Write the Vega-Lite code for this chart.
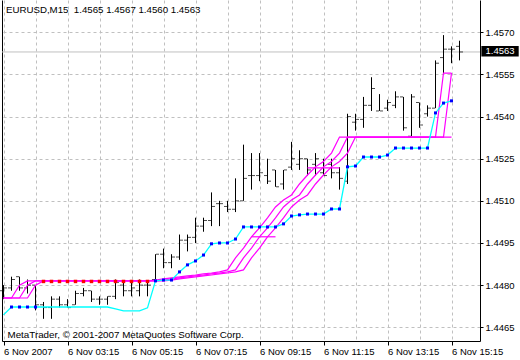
{
"$schema": "https://vega.github.io/schema/vega-lite/v6.json",
"width": 478, "height": 341,
"autosize": {"type": "none"},
"padding": {"left": 2, "top": 0, "right": 40, "bottom": 19},
"background": "white",
"config": {"view": {"stroke": null}, "font": "Liberation Sans"},
"title": {"text": "EURUSD,M15\u00a0 1.4565 1.4567 1.4560 1.4563", "anchor": "start", "frame": "group", "orient": "top", "offset": -15, "dx": 4, "fontSize": 9.7, "fontWeight": "normal", "font": "Liberation Sans", "color": "black"},
"datasets": {
"bars": [
{"t":"2007-11-06T01:15:00Z","o":1.4478,"h":1.4480,"l":1.4475,"c":1.4479,"cy":1.44694,"a":1.44754,"b":1.44754,"m":1.44754},
{"t":"2007-11-06T01:30:00Z","o":1.4479,"h":1.4483,"l":1.4478,"c":1.4482,"cy":1.44722,"bl":1.44722,"a":1.44754,"b":1.44754,"m":1.44754},
{"t":"2007-11-06T01:45:00Z","o":1.4483,"h":1.4483,"l":1.4478,"c":1.4479,"cy":1.44722,"bl":1.44722,"a":1.448,"b":1.44754,"m":1.44754},
{"t":"2007-11-06T02:00:00Z","o":1.4479,"h":1.4482,"l":1.4477,"c":1.4480,"cy":1.44722,"bl":1.44722,"a":1.44815,"b":1.448,"m":1.44754},
{"t":"2007-11-06T02:15:00Z","o":1.4480,"h":1.4480,"l":1.4471,"c":1.4473,"cy":1.44722,"bl":1.44722,"a":1.44815,"b":1.44815,"m":1.448},
{"t":"2007-11-06T02:30:00Z","o":1.4473,"h":1.4474,"l":1.4468,"c":1.4472,"cy":1.44722,"rd":1.44813,"a":1.44815,"b":1.44815,"m":1.44815},
{"t":"2007-11-06T02:45:00Z","o":1.4472,"h":1.4476,"l":1.4468,"c":1.4475,"cy":1.44722,"rd":1.44813,"a":1.44815,"b":1.44815,"m":1.44815},
{"t":"2007-11-06T03:00:00Z","o":1.4475,"h":1.4476,"l":1.4472,"c":1.4473,"cy":1.44722,"rd":1.44813,"a":1.44815,"b":1.44815,"m":1.44815},
{"t":"2007-11-06T03:15:00Z","o":1.4473,"h":1.4475,"l":1.4472,"c":1.4472,"cy":1.44722,"rd":1.44813,"a":1.44815,"b":1.44815,"m":1.44815},
{"t":"2007-11-06T03:30:00Z","o":1.4473,"h":1.4478,"l":1.4473,"c":1.4477,"cy":1.44722,"rd":1.44813,"a":1.44815,"b":1.44815,"m":1.44815},
{"t":"2007-11-06T03:45:00Z","o":1.4477,"h":1.4479,"l":1.4476,"c":1.4478,"cy":1.44722,"rd":1.44813,"a":1.44815,"b":1.44815,"m":1.44815},
{"t":"2007-11-06T04:00:00Z","o":1.4478,"h":1.4478,"l":1.4474,"c":1.4475,"cy":1.44722,"rd":1.44813,"a":1.44815,"b":1.44815,"m":1.44815},
{"t":"2007-11-06T04:15:00Z","o":1.4475,"h":1.4476,"l":1.4473,"c":1.4475,"cy":1.44722,"rd":1.44813,"a":1.44815,"b":1.44815,"m":1.44815},
{"t":"2007-11-06T04:30:00Z","o":1.4475,"h":1.4476,"l":1.4473,"c":1.4476,"cy":1.44722,"rd":1.44813,"a":1.44815,"b":1.44815,"m":1.44815},
{"t":"2007-11-06T04:45:00Z","o":1.4476,"h":1.4482,"l":1.4475,"c":1.4481,"cy":1.44715,"rd":1.44813,"a":1.44815,"b":1.44815,"m":1.44815},
{"t":"2007-11-06T05:00:00Z","o":1.4480,"h":1.4481,"l":1.4476,"c":1.4478,"cy":1.44708,"rd":1.44813,"a":1.44815,"b":1.44815,"m":1.44815},
{"t":"2007-11-06T05:15:00Z","o":1.4478,"h":1.4481,"l":1.4476,"c":1.4479,"cy":1.44708,"rd":1.44813,"a":1.44815,"b":1.44815,"m":1.44815},
{"t":"2007-11-06T05:30:00Z","o":1.4478,"h":1.4482,"l":1.4476,"c":1.4480,"cy":1.44708,"rd":1.44813,"a":1.44815,"b":1.44815,"m":1.44815},
{"t":"2007-11-06T05:45:00Z","o":1.4480,"h":1.4481,"l":1.4476,"c":1.4480,"cy":1.44719,"rd":1.44813,"a":1.44815,"b":1.44815,"m":1.44815},
{"t":"2007-11-06T06:00:00Z","o":1.4482,"h":1.4491,"l":1.4482,"c":1.4491,"cy":1.44815,"bl":1.44815,"a":1.44818,"b":1.44815,"m":1.44815},
{"t":"2007-11-06T06:15:00Z","o":1.4491,"h":1.4493,"l":1.4486,"c":1.4488,"cy":1.44818,"bl":1.44818,"a":1.44822,"b":1.44818,"m":1.44815},
{"t":"2007-11-06T06:30:00Z","o":1.4488,"h":1.4491,"l":1.4486,"c":1.4490,"cy":1.44818,"bl":1.44818,"a":1.44826,"b":1.44822,"m":1.44818},
{"t":"2007-11-06T06:45:00Z","o":1.4490,"h":1.4498,"l":1.4489,"c":1.4496,"cy":1.44847,"bl":1.44847,"a":1.44829,"b":1.44826,"m":1.44822},
{"t":"2007-11-06T07:00:00Z","o":1.4496,"h":1.4498,"l":1.4492,"c":1.4497,"cy":1.44872,"bl":1.44872,"a":1.44833,"b":1.44829,"m":1.44826},
{"t":"2007-11-06T07:15:00Z","o":1.4497,"h":1.4504,"l":1.4495,"c":1.4501,"cy":1.44886,"bl":1.44886,"a":1.44836,"b":1.44833,"m":1.44829},
{"t":"2007-11-06T07:30:00Z","o":1.4501,"h":1.4504,"l":1.4499,"c":1.4503,"cy":1.44907,"bl":1.44907,"a":1.4484,"b":1.44836,"m":1.44833},
{"t":"2007-11-06T07:45:00Z","o":1.4503,"h":1.4513,"l":1.4501,"c":1.4508,"cy":1.44947,"bl":1.44947,"a":1.44843,"b":1.4484,"m":1.44836},
{"t":"2007-11-06T08:00:00Z","o":1.4509,"h":1.4510,"l":1.4501,"c":1.4509,"cy":1.4495,"bl":1.4495,"a":1.44847,"b":1.44843,"m":1.4484},
{"t":"2007-11-06T08:15:00Z","o":1.4508,"h":1.4510,"l":1.4506,"c":1.4507,"cy":1.4495,"bl":1.4495,"a":1.44854,"b":1.44847,"m":1.44843},
{"t":"2007-11-06T08:30:00Z","o":1.4507,"h":1.4518,"l":1.4506,"c":1.4510,"cy":1.44964,"bl":1.44964,"a":1.44897,"b":1.44854,"m":1.44847},
{"t":"2007-11-06T08:45:00Z","o":1.4510,"h":1.4530,"l":1.4510,"c":1.4518,"cy":1.45007,"bl":1.45007,"a":1.44932,"b":1.44897,"m":1.44854},
{"t":"2007-11-06T09:00:00Z","o":1.4519,"h":1.4527,"l":1.4514,"c":1.4519,"cy":1.45007,"bl":1.45007,"a":1.44972,"b":1.44932,"m":1.44897},
{"t":"2007-11-06T09:15:00Z","o":1.4519,"h":1.4527,"l":1.4517,"c":1.4520,"cy":1.45007,"bl":1.45007,"a":1.45004,"b":1.44972,"m":1.44932},
{"t":"2007-11-06T09:30:00Z","o":1.4519,"h":1.4525,"l":1.4516,"c":1.4517,"cy":1.45007,"bl":1.45007,"a":1.45039,"b":1.45004,"m":1.44972},
{"t":"2007-11-06T09:45:00Z","o":1.4521,"h":1.4521,"l":1.4515,"c":1.4515,"cy":1.45007,"bl":1.45007,"a":1.45078,"b":1.45039,"m":1.45004},
{"t":"2007-11-06T10:00:00Z","o":1.4516,"h":1.4521,"l":1.4514,"c":1.4521,"cy":1.45018,"bl":1.45018,"a":1.45103,"b":1.45078,"m":1.45039},
{"t":"2007-11-06T10:15:00Z","o":1.4522,"h":1.4531,"l":1.4521,"c":1.4525,"cy":1.45046,"bl":1.45046,"a":1.45121,"b":1.45103,"m":1.45078},
{"t":"2007-11-06T10:30:00Z","o":1.4523,"h":1.4528,"l":1.4521,"c":1.4525,"cy":1.4505,"bl":1.4505,"a":1.4516,"b":1.45121,"m":1.45103},
{"t":"2007-11-06T10:45:00Z","o":1.4525,"h":1.4525,"l":1.4519,"c":1.4521,"cy":1.45053,"bl":1.45053,"a":1.45192,"b":1.4516,"m":1.45121},
{"t":"2007-11-06T11:00:00Z","o":1.4523,"h":1.4527,"l":1.4519,"c":1.4525,"cy":1.45053,"bl":1.45053,"a":1.45221,"b":1.45192,"m":1.4516},
{"t":"2007-11-06T11:15:00Z","o":1.4520,"h":1.4525,"l":1.4519,"c":1.4519,"cy":1.45053,"bl":1.45053,"a":1.4524,"b":1.45221,"m":1.45192},
{"t":"2007-11-06T11:30:00Z","o":1.4523,"h":1.4525,"l":1.4518,"c":1.4520,"cy":1.45071,"bl":1.45071,"a":1.4527,"b":1.4524,"m":1.45221},
{"t":"2007-11-06T11:45:00Z","o":1.4520,"h":1.4522,"l":1.4514,"c":1.4518,"cy":1.45071,"bl":1.45071,"a":1.45327,"b":1.4527,"m":1.4524},
{"t":"2007-11-06T12:00:00Z","o":1.4517,"h":1.4541,"l":1.4516,"c":1.4540,"cy":1.45221,"bl":1.45221,"a":1.45327,"b":1.45327,"m":1.4527},
{"t":"2007-11-06T12:15:00Z","o":1.4538,"h":1.4541,"l":1.4535,"c":1.4539,"cy":1.45224,"bl":1.45224,"a":1.45327,"b":1.45327,"m":1.45327},
{"t":"2007-11-06T12:30:00Z","o":1.4539,"h":1.4547,"l":1.4536,"c":1.4544,"cy":1.45256,"bl":1.45256,"a":1.45327,"b":1.45327,"m":1.45327},
{"t":"2007-11-06T12:45:00Z","o":1.4544,"h":1.4554,"l":1.4542,"c":1.4550,"cy":1.45256,"bl":1.45256,"a":1.45327,"b":1.45327,"m":1.45327},
{"t":"2007-11-06T13:00:00Z","o":1.4542,"h":1.4548,"l":1.4542,"c":1.4542,"cy":1.45256,"bl":1.45256,"a":1.45327,"b":1.45327,"m":1.45327},
{"t":"2007-11-06T13:15:00Z","o":1.4543,"h":1.4546,"l":1.4542,"c":1.4545,"cy":1.45263,"bl":1.45263,"a":1.45327,"b":1.45327,"m":1.45327},
{"t":"2007-11-06T13:30:00Z","o":1.4544,"h":1.4549,"l":1.4543,"c":1.4547,"cy":1.45288,"bl":1.45288,"a":1.45327,"b":1.45327,"m":1.45327},
{"t":"2007-11-06T13:45:00Z","o":1.4547,"h":1.4547,"l":1.4535,"c":1.4536,"cy":1.45288,"bl":1.45288,"a":1.45327,"b":1.45327,"m":1.45327},
{"t":"2007-11-06T14:00:00Z","o":1.4533,"h":1.4548,"l":1.4533,"c":1.4547,"cy":1.45288,"bl":1.45288,"a":1.45327,"b":1.45327,"m":1.45327},
{"t":"2007-11-06T14:15:00Z","o":1.4545,"h":1.4545,"l":1.4536,"c":1.4537,"cy":1.45288,"bl":1.45288,"a":1.45327,"b":1.45327,"m":1.45327},
{"t":"2007-11-06T14:30:00Z","o":1.4541,"h":1.4544,"l":1.4540,"c":1.4543,"cy":1.45288,"bl":1.45288,"a":1.45327,"b":1.45327,"m":1.45327},
{"t":"2007-11-06T14:45:00Z","o":1.4543,"h":1.4560,"l":1.4543,"c":1.4559,"cy":1.45413,"bl":1.45413,"a":1.45327,"b":1.45327,"m":1.45327},
{"t":"2007-11-06T15:00:00Z","o":1.4561,"h":1.4569,"l":1.4555,"c":1.4564,"cy":1.45448,"bl":1.45448,"a":1.45555,"b":1.45327,"m":1.45327},
{"t":"2007-11-06T15:15:00Z","o":1.4564,"h":1.4565,"l":1.4559,"c":1.4564,"cy":1.45456,"bl":1.45456,"a":1.45555,"b":1.45555,"m":1.45327},
{"t":"2007-11-06T15:30:00Z","o":1.4565,"h":1.4567,"l":1.4560,"c":1.4563}
],
"segs": [
{"t":"2007-11-06T09:00:00Z","t2":"2007-11-06T09:45:00Z","v":1.44972},
{"t":"2007-11-06T10:45:00Z","t2":"2007-11-06T11:45:00Z","v":1.45217}
],
"last": [{"v": 1.4563, "lab": "1.4563"}]
},
"layer": [
{"data": {"name": "last"},
 "mark": {"type": "rule", "color": "#c0c0c0", "strokeWidth": 1},
 "encoding": {"y": {"field": "v", "type": "quantitative", "scale": {"domain": [1.44601, 1.45815], "zero": false},
   "axis": {"orient": "left", "labels": false, "ticks": false, "grid": false, "domain": true, "domainColor": "black", "domainWidth": 1, "title": null}}}},
{"data": {"name": "bars"},
 "mark": {"type": "rule", "color": "black", "strokeWidth": 1},
 "encoding": {
  "x": {"field": "t", "type": "temporal", "scale": {"type": "utc", "domain": [{"year":2007,"month":11,"date":6,"hours":1,"minutes":12,"seconds":11,"milliseconds":250,"utc":true},{"year":2007,"month":11,"date":6,"hours":16,"minutes":8,"seconds":26,"milliseconds":250,"utc":true}]},
   "axis": {"orient": "bottom", "values": [
     {"year":2007,"month":11,"date":6,"hours":1,"minutes":15,"utc":true},{"year":2007,"month":11,"date":6,"hours":2,"minutes":15,"utc":true},{"year":2007,"month":11,"date":6,"hours":3,"minutes":15,"utc":true},{"year":2007,"month":11,"date":6,"hours":4,"minutes":15,"utc":true},{"year":2007,"month":11,"date":6,"hours":5,"minutes":15,"utc":true},{"year":2007,"month":11,"date":6,"hours":6,"minutes":15,"utc":true},{"year":2007,"month":11,"date":6,"hours":7,"minutes":15,"utc":true},{"year":2007,"month":11,"date":6,"hours":8,"minutes":15,"utc":true},{"year":2007,"month":11,"date":6,"hours":9,"minutes":15,"utc":true},{"year":2007,"month":11,"date":6,"hours":10,"minutes":15,"utc":true},{"year":2007,"month":11,"date":6,"hours":11,"minutes":15,"utc":true},{"year":2007,"month":11,"date":6,"hours":12,"minutes":15,"utc":true},{"year":2007,"month":11,"date":6,"hours":13,"minutes":15,"utc":true},{"year":2007,"month":11,"date":6,"hours":14,"minutes":15,"utc":true},{"year":2007,"month":11,"date":6,"hours":15,"minutes":15,"utc":true}],
    "labelExpr": "utchours(datum.value) % 2 == 1 ? (utchours(datum.value) == 1 ? '6 Nov 2007' : utcFormat(datum.value, '%-d %b %H:%M')) : ''",
    "labelAlign": "left", "labelBaseline": "top", "labelPadding": 1, "labelOverlap": false, "labelFlush": false, "labelBound": false,
    "labelFont": "Liberation Sans", "labelFontSize": 9.5, "labelColor": "black",
    "tickSize": 4, "tickColor": "black", "tickOpacity": {"condition": {"test": "utchours(datum.value) % 2 == 1", "value": 1}, "value": 0},
    "grid": true, "gridColor": "#c0c0c0", "gridDash": [3, 3], "gridWidth": 1,
    "domain": true, "domainColor": "black",
    "title": "MetaTrader, © 2001-2007 MetaQuotes Software Corp.", "titleX": 5, "titleY": -4, "titleAlign": "left", "titleBaseline": "alphabetic", "titleFontWeight": "normal", "titleFontSize": 9.8, "titleFont": "Liberation Sans", "titleColor": "black"}},
  "y": {"field": "l", "type": "quantitative", "scale": {"domain": [1.44601, 1.45815], "zero": false},
   "axis": {"orient": "right", "values": [1.4465, 1.448, 1.4495, 1.451, 1.4525, 1.454, 1.4555, 1.457], "format": ".4f", "tickSize": 3, "tickColor": "black", "labelPadding": 2, "labelAlign": "left", "labelBaseline": "middle", "labelFont": "Liberation Sans", "labelFontSize": 9.5, "labelColor": "black", "labelFlush": false, "labelOverlap": false, "grid": true, "gridColor": "#c0c0c0", "gridDash": [3, 3], "domainColor": "black", "title": null}},
  "y2": {"field": "h"}}},
{"data": {"name": "bars"},
 "mark": {"type": "tick", "orient": "horizontal", "size": 3, "thickness": 1, "xOffset": -2, "color": "black"},
 "encoding": {
  "x": {"field": "t", "type": "temporal", "scale": {"type": "utc", "domain": [{"year":2007,"month":11,"date":6,"hours":1,"minutes":12,"seconds":11,"milliseconds":250,"utc":true},{"year":2007,"month":11,"date":6,"hours":16,"minutes":8,"seconds":26,"milliseconds":250,"utc":true}]}, "axis": null},
  "y": {"field": "o", "type": "quantitative", "scale": {"domain": [1.44601, 1.45815], "zero": false}, "axis": null}}},
{"data": {"name": "bars"},
 "mark": {"type": "tick", "orient": "horizontal", "size": 3, "thickness": 1, "xOffset": 2, "color": "black"},
 "encoding": {
  "x": {"field": "t", "type": "temporal", "scale": {"type": "utc", "domain": [{"year":2007,"month":11,"date":6,"hours":1,"minutes":12,"seconds":11,"milliseconds":250,"utc":true},{"year":2007,"month":11,"date":6,"hours":16,"minutes":8,"seconds":26,"milliseconds":250,"utc":true}]}, "axis": null},
  "y": {"field": "c", "type": "quantitative", "scale": {"domain": [1.44601, 1.45815], "zero": false}, "axis": null}}},
{"data": {"name": "segs"},
 "mark": {"type": "rule", "color": "#ff00ff", "strokeWidth": 1.2},
 "encoding": {
  "x": {"field": "t", "type": "temporal", "scale": {"type": "utc", "domain": [{"year":2007,"month":11,"date":6,"hours":1,"minutes":12,"seconds":11,"milliseconds":250,"utc":true},{"year":2007,"month":11,"date":6,"hours":16,"minutes":8,"seconds":26,"milliseconds":250,"utc":true}]}, "axis": null},
  "x2": {"field": "t2"},
  "y": {"field": "v", "type": "quantitative", "scale": {"domain": [1.44601, 1.45815], "zero": false}, "axis": null}}},
{"data": {"name": "bars"},
 "mark": {"type": "line", "color": "#ff00ff", "strokeWidth": 1.2},
 "encoding": {
  "x": {"field": "t", "type": "temporal", "scale": {"type": "utc", "domain": [{"year":2007,"month":11,"date":6,"hours":1,"minutes":12,"seconds":11,"milliseconds":250,"utc":true},{"year":2007,"month":11,"date":6,"hours":16,"minutes":8,"seconds":26,"milliseconds":250,"utc":true}]}, "axis": null},
  "y": {"field": "a", "type": "quantitative", "scale": {"domain": [1.44601, 1.45815], "zero": false}, "axis": null}}},
{"data": {"name": "bars"},
 "mark": {"type": "line", "color": "#ff00ff", "strokeWidth": 1.2},
 "encoding": {
  "x": {"field": "t", "type": "temporal", "scale": {"type": "utc", "domain": [{"year":2007,"month":11,"date":6,"hours":1,"minutes":12,"seconds":11,"milliseconds":250,"utc":true},{"year":2007,"month":11,"date":6,"hours":16,"minutes":8,"seconds":26,"milliseconds":250,"utc":true}]}, "axis": null},
  "y": {"field": "b", "type": "quantitative", "scale": {"domain": [1.44601, 1.45815], "zero": false}, "axis": null}}},
{"data": {"name": "bars"},
 "mark": {"type": "line", "color": "#ff00ff", "strokeWidth": 1.2},
 "encoding": {
  "x": {"field": "t", "type": "temporal", "scale": {"type": "utc", "domain": [{"year":2007,"month":11,"date":6,"hours":1,"minutes":12,"seconds":11,"milliseconds":250,"utc":true},{"year":2007,"month":11,"date":6,"hours":16,"minutes":8,"seconds":26,"milliseconds":250,"utc":true}]}, "axis": null},
  "y": {"field": "m", "type": "quantitative", "scale": {"domain": [1.44601, 1.45815], "zero": false}, "axis": null}}},
{"data": {"name": "bars"},
 "mark": {"type": "line", "color": "#00ffff", "strokeWidth": 1.3},
 "encoding": {
  "x": {"field": "t", "type": "temporal", "scale": {"type": "utc", "domain": [{"year":2007,"month":11,"date":6,"hours":1,"minutes":12,"seconds":11,"milliseconds":250,"utc":true},{"year":2007,"month":11,"date":6,"hours":16,"minutes":8,"seconds":26,"milliseconds":250,"utc":true}]}, "axis": null},
  "y": {"field": "cy", "type": "quantitative", "scale": {"domain": [1.44601, 1.45815], "zero": false}, "axis": null}}},
{"data": {"name": "bars"},
 "mark": {"type": "square", "color": "#ff0000", "size": 12, "opacity": 1},
 "encoding": {
  "x": {"field": "t", "type": "temporal", "scale": {"type": "utc", "domain": [{"year":2007,"month":11,"date":6,"hours":1,"minutes":12,"seconds":11,"milliseconds":250,"utc":true},{"year":2007,"month":11,"date":6,"hours":16,"minutes":8,"seconds":26,"milliseconds":250,"utc":true}]}, "axis": null},
  "y": {"field": "rd", "type": "quantitative", "scale": {"domain": [1.44601, 1.45815], "zero": false}, "axis": null}}},
{"data": {"name": "bars"},
 "mark": {"type": "square", "color": "#0000ff", "size": 9, "opacity": 1},
 "encoding": {
  "x": {"field": "t", "type": "temporal", "scale": {"type": "utc", "domain": [{"year":2007,"month":11,"date":6,"hours":1,"minutes":12,"seconds":11,"milliseconds":250,"utc":true},{"year":2007,"month":11,"date":6,"hours":16,"minutes":8,"seconds":26,"milliseconds":250,"utc":true}]}, "axis": null},
  "y": {"field": "bl", "type": "quantitative", "scale": {"domain": [1.44601, 1.45815], "zero": false}, "axis": null}}},
{"data": {"name": "last"},
 "mark": {"type": "rect", "color": "black"},
 "encoding": {
  "x": {"datum": {"year":2007,"month":11,"date":6,"hours":16,"minutes":11,"utc":true}, "type": "temporal", "scale": {"type": "utc", "domain": [{"year":2007,"month":11,"date":6,"hours":1,"minutes":12,"seconds":11,"milliseconds":250,"utc":true},{"year":2007,"month":11,"date":6,"hours":16,"minutes":8,"seconds":26,"milliseconds":250,"utc":true}]}, "axis": null},
  "x2": {"datum": {"year":2007,"month":11,"date":6,"hours":17,"minutes":21,"utc":true}},
  "y": {"datum": 1.45614, "type": "quantitative", "scale": {"domain": [1.44601, 1.45815], "zero": false}, "axis": null},
  "y2": {"datum": 1.45651}}},
{"data": {"name": "last"},
 "mark": {"type": "text", "color": "white", "font": "Liberation Sans", "fontSize": 9.5, "align": "center", "baseline": "middle"},
 "encoding": {
  "x": {"datum": {"year":2007,"month":11,"date":6,"hours":16,"minutes":46,"utc":true}, "type": "temporal", "scale": {"type": "utc", "domain": [{"year":2007,"month":11,"date":6,"hours":1,"minutes":12,"seconds":11,"milliseconds":250,"utc":true},{"year":2007,"month":11,"date":6,"hours":16,"minutes":8,"seconds":26,"milliseconds":250,"utc":true}]}, "axis": null},
  "y": {"datum": 1.45632, "type": "quantitative", "scale": {"domain": [1.44601, 1.45815], "zero": false}, "axis": null},
  "text": {"field": "lab"}}}
],
"resolve": {"axis": {"x": "independent", "y": "independent"}}
}
